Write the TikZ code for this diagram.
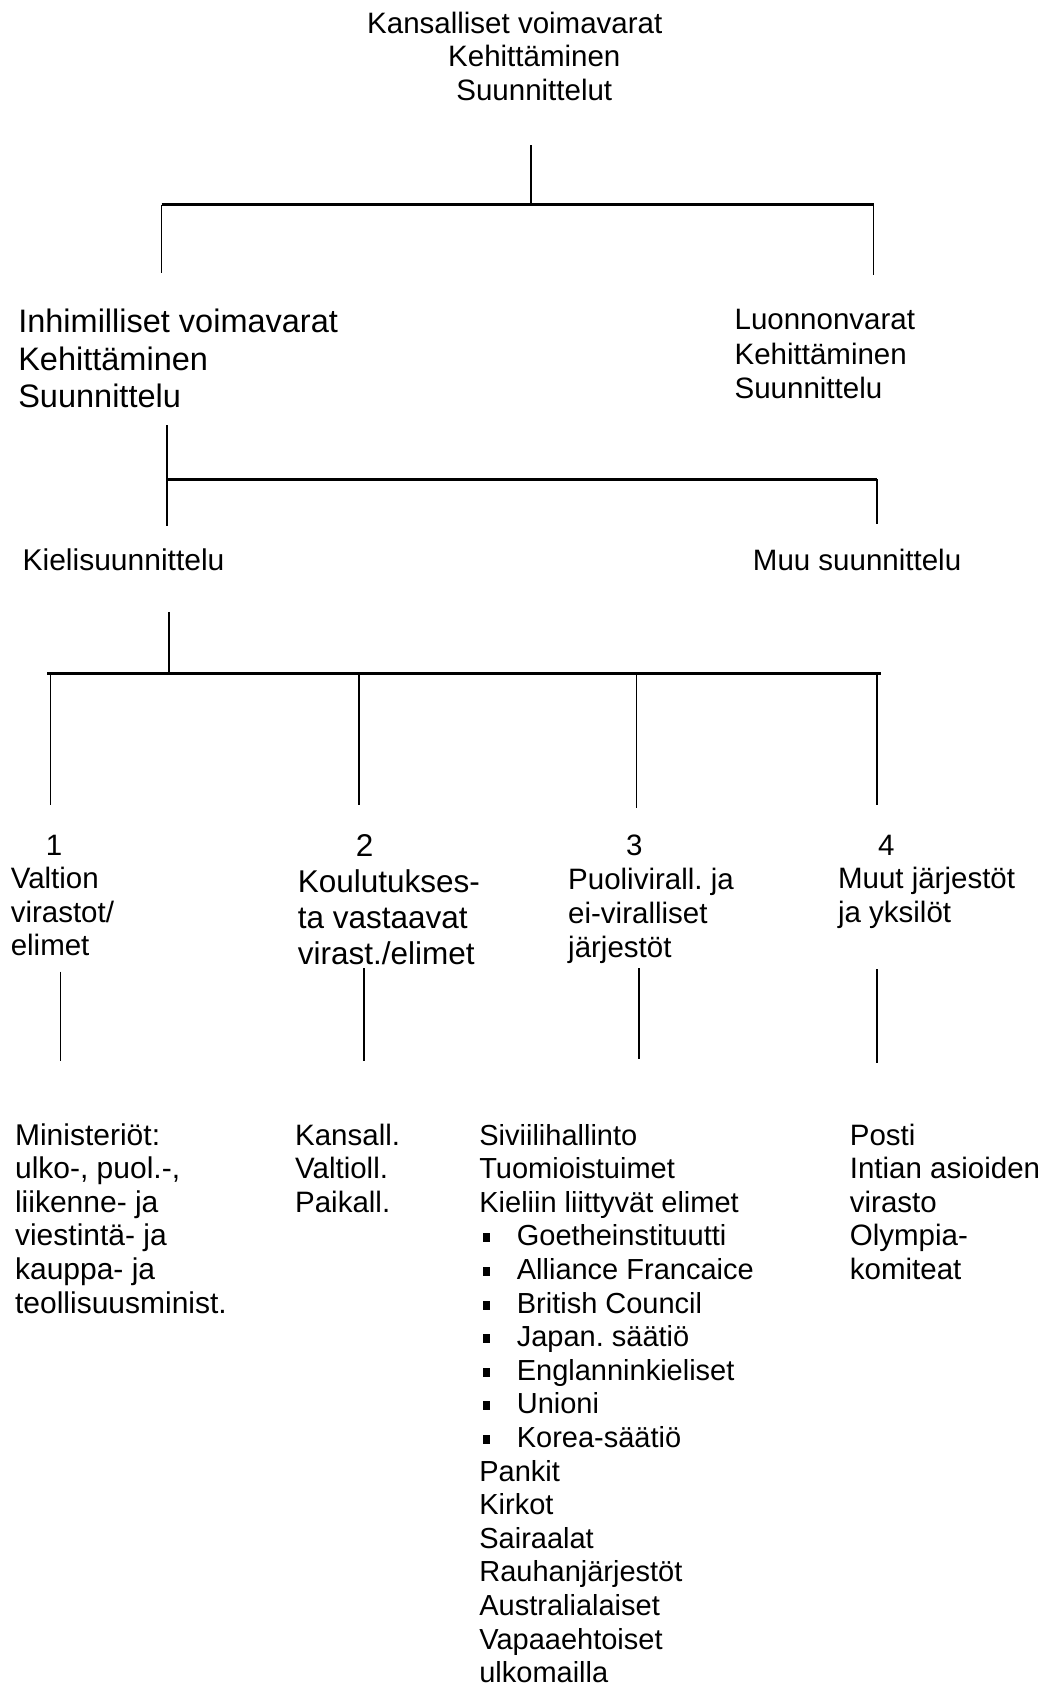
\documentclass[tikz,border=0pt]{standalone}
\usepackage{fontspec}
\setmainfont{Liberation Sans}
\frenchspacing
\newcommand{\blk}[2][l]{\begin{tabular}[t]{@{}#1@{}}#2\end{tabular}}
\newcommand{\bul}{\makebox[37.5pt][l]{\hspace*{4pt}\rule[3.5pt]{6.5pt}{9pt}}}
\tikzset{
  txt/.style={anchor=base west, inner sep=0pt, outer sep=0pt},
  vline/.style={line width=1.6pt},
  hline/.style={line width=2.6pt},
}
\begin{document}
\begin{tikzpicture}[x=1.0772pt, y=-1.0772pt]
\fill[white] (0,0) rectangle (972,1568);
\useasboundingbox (0,0) rectangle (972,1568);

% ---- text nodes ----
\node[txt, anchor=base, font=\fontsize{29.5pt}{33.5pt}\selectfont] (top) at (496,31)
  {\blk[c]{Kansalliset voimavarat\hspace*{39pt}\\Kehittäminen\\Suunnittelut}};
\node[txt, font=\fontsize{32.5pt}{37.5pt}\selectfont] (inh) at (17,309)
  {\blk{Inhimilliset voimavarat\\Kehittäminen\\Suunnittelu}};
\node[txt, font=\fontsize{29.5pt}{34.5pt}\selectfont] (luo) at (682,306)
  {\blk{Luonnonvarat\\Kehittäminen\\Suunnittelu}};
\node[txt, font=\fontsize{30pt}{34pt}\selectfont] (kiel) at (21,530) {Kielisuunnittelu};
\node[txt, font=\fontsize{29.5pt}{34pt}\selectfont] (muu) at (699,530) {Muu suunnittelu};

\node[txt, font=\fontsize{29.5pt}{33.4pt}\selectfont] (c1) at (10,794)
  {\blk{\hspace*{35pt}1\\Valtion\\virastot/\\elimet}};
\node[txt, font=\fontsize{31.5pt}{36pt}\selectfont] (c2) at (276.5,795.5)
  {\blk{\hspace*{58pt}2\\Koulutukses-\\ta vastaavat\\virast./elimet}};
\node[txt, font=\fontsize{29.5pt}{34pt}\selectfont] (c3) at (527.5,794)
  {\blk{\hspace*{58pt}3\\Puolivirall. ja\\ei-viralliset\\järjestöt}};
\node[txt, font=\fontsize{29.5pt}{33.4pt}\selectfont] (c4) at (778,794)
  {\blk{\hspace*{40pt}4\\Muut järjestöt\\ja yksilöt}};

\node[txt, font=\fontsize{30pt}{33.6pt}\selectfont] (b1) at (14,1063)
  {\blk{Ministeriöt:\\ulko-, puol.-,\\liikenne- ja\\viestintä- ja\\kauppa- ja\\teollisuusminist.}};
\node[txt, font=\fontsize{29.5pt}{33.6pt}\selectfont] (b2) at (274,1063)
  {\blk{Kansall.\\Valtioll.\\Paikall.}};
\node[txt, font=\fontsize{29pt}{33.6pt}\selectfont] (b3) at (445,1063)
  {\blk{Siviilihallinto\\Tuomioistuimet\\Kieliin liittyvät elimet\\
  \bul Goetheinstituutti\\\bul Alliance Francaice\\\bul British Council\\
  \bul Japan. säätiö\\\bul Englanninkieliset\\\bul Unioni\\\bul Korea-säätiö\\
  Pankit\\Kirkot\\Sairaalat\\Rauhanjärjestöt\\Australialaiset\\Vapaaehtoiset\\ulkomailla}};
\node[txt, font=\fontsize{29.5pt}{33.6pt}\selectfont] (b4) at (789,1063)
  {\blk{Posti\\Intian asioiden\\virasto\\Olympia-\\komiteat}};

% ---- connector points ----
\coordinate (t0) at (493,135);
\coordinate (t1) at (493,190);
\coordinate (tL) at (150,190);
\coordinate (tR) at (811,190);
\coordinate (tLd) at (150,253);
\coordinate (tRd) at (811,255);

\coordinate (h0) at (155,395);
\coordinate (h1) at (155,445);
\coordinate (h1d) at (155,488);
\coordinate (hR) at (814,445);
\coordinate (hRd) at (814,486);

\coordinate (k0) at (157,568);
\coordinate (k1) at (157,625);
\coordinate (kL) at (44,625);
\coordinate (kR) at (818,625);
\coordinate (k1a) at (47,625);  \coordinate (k1b) at (47,747);
\coordinate (k2a) at (333,625); \coordinate (k2b) at (333,747);
\coordinate (k3a) at (591,625); \coordinate (k3b) at (591,750);
\coordinate (k4a) at (814,625); \coordinate (k4b) at (814,747);

\coordinate (d1a) at (56,902);  \coordinate (d1b) at (56,985);
\coordinate (d2a) at (338,899); \coordinate (d2b) at (338,985);
\coordinate (d3a) at (593,899); \coordinate (d3b) at (593,983);
\coordinate (d4a) at (814,900); \coordinate (d4b) at (814,987);

% ---- connectors ----
\draw[vline] (t0) -- (t1);
\draw[hline] (tL) -- (tR);
\draw[vline] (tL) -- (tLd);
\draw[vline] (tR) -- (tRd);

\draw[vline] (h0) -- (h1d);
\draw[hline] (h1) -- (hR);
\draw[vline] (hR) -- (hRd);

\draw[vline] (k0) -- (k1);
\draw[hline] (kL) -- (kR);
\draw[vline] (k1a) -- (k1b);
\draw[vline] (k2a) -- (k2b);
\draw[vline] (k3a) -- (k3b);
\draw[vline] (k4a) -- (k4b);

\draw[vline] (d1a) -- (d1b);
\draw[vline] (d2a) -- (d2b);
\draw[vline] (d3a) -- (d3b);
\draw[vline] (d4a) -- (d4b);
\end{tikzpicture}
\end{document}
